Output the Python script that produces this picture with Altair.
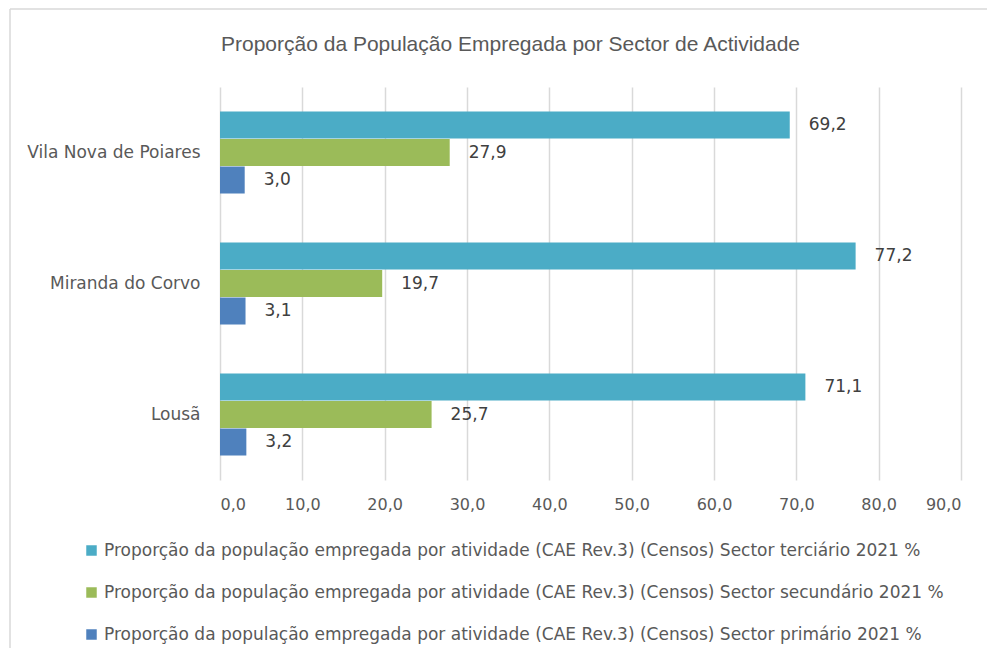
import altair as alt
import pandas as pd

municipios = ["Vila Nova de Poiares", "Miranda do Corvo", "Lousã"]
series = [
    "Proporção da população empregada por atividade (CAE Rev.3) (Censos) Sector terciário 2021 %",
    "Proporção da população empregada por atividade (CAE Rev.3) (Censos) Sector secundário 2021 %",
    "Proporção da população empregada por atividade (CAE Rev.3) (Censos) Sector primário 2021 %",
]
terciario = [69.2, 77.2, 71.1]
secundario = [27.9, 19.7, 25.7]
primario = [3.0, 3.1, 3.2]
cores = ["#4BACC6", "#9BBB59", "#4F81BD"]
x_ticks = [0, 10, 20, 30, 40, 50, 60, 70, 80, 90]

rows = []
for vals, s in zip([terciario, secundario, primario], series):
    for m, v in zip(municipios, vals):
        rows.append({"municipio": m, "serie": s, "valor": v,
                     "rotulo": f"{v:.1f}".replace(".", ",")})
df = pd.DataFrame(rows)

W, H = 741, 393
FONT = "DejaVu Sans"
GREY = "#595959"

y_enc = alt.Y("municipio:N", sort=municipios, title=None,
              scale=alt.Scale(paddingInner=0.37, paddingOuter=0.185),
              axis=alt.Axis(ticks=False, domain=False, labelFont=FONT, labelFontSize=17,
                            labelColor=GREY, labelPadding=20, grid=False))
yoff = alt.YOffset("serie:N", sort=series, scale=alt.Scale(paddingInner=0, paddingOuter=0))
x_enc = alt.X("valor:Q", title=None,
              scale=alt.Scale(domain=[0, 90], nice=False),
              axis=alt.Axis(values=x_ticks, ticks=False, domain=False, grid=True,
                            gridColor="#d9d9d9", gridWidth=1.5,
                            labelFont=FONT, labelFontSize=16, labelColor=GREY,
                            labelPadding=16,
                            labelExpr="replace(format(datum.value, '.1f'), '.', ',')"))

bars = alt.Chart(df).mark_bar(size=27).encode(
    x=x_enc, y=y_enc, yOffset=yoff,
    color=alt.Color("serie:N", sort=series, title=None,
                    scale=alt.Scale(domain=series, range=cores),
                    legend=alt.Legend(orient="none", legendX=-137, legendY=455,
                                      direction="vertical", symbolType="square",
                                      symbolSize=110, symbolStrokeWidth=0,
                                      labelFont=FONT, labelFontSize=17, labelColor=GREY,
                                      labelLimit=1000, rowPadding=24, labelOffset=4)),
)

labels = alt.Chart(df).mark_text(align="left", baseline="middle", dx=19,
                                 font=FONT, fontSize=17, color="#404040").encode(
    x="valor:Q", y=alt.Y("municipio:N", sort=municipios), yOffset=alt.YOffset("serie:N", sort=series),
    text="rotulo:N",
)

frame_data = alt.Data(values=[{"a": 1}])
left_border = alt.Chart(frame_data).mark_rule(color="#d9d9d9", strokeWidth=1.5).encode(
    x=alt.value(-210), y=alt.value(-78), y2=alt.value(H + 200))
top_border = alt.Chart(frame_data).mark_rule(color="#d9d9d9", strokeWidth=1.5).encode(
    x=alt.value(-210), x2=alt.value(W + 30), y=alt.value(-78))

chart = alt.layer(bars, labels, left_border, top_border).properties(
    width=W, height=H,
    title=alt.TitleParams("Proporção da População Empregada por Sector de Actividade",
                          font="Liberation Sans", fontSize=21, fontWeight="normal",
                          color=GREY, anchor="middle", dx=-80, dy=47, offset=0),
    autosize=alt.AutoSizeParams(type="none"),
    padding={"left": 212, "top": 79, "right": 26, "bottom": 168},
).configure_view(stroke=None)

chart.save("out.html", embed_options={"renderer": "svg", "actions": False})
